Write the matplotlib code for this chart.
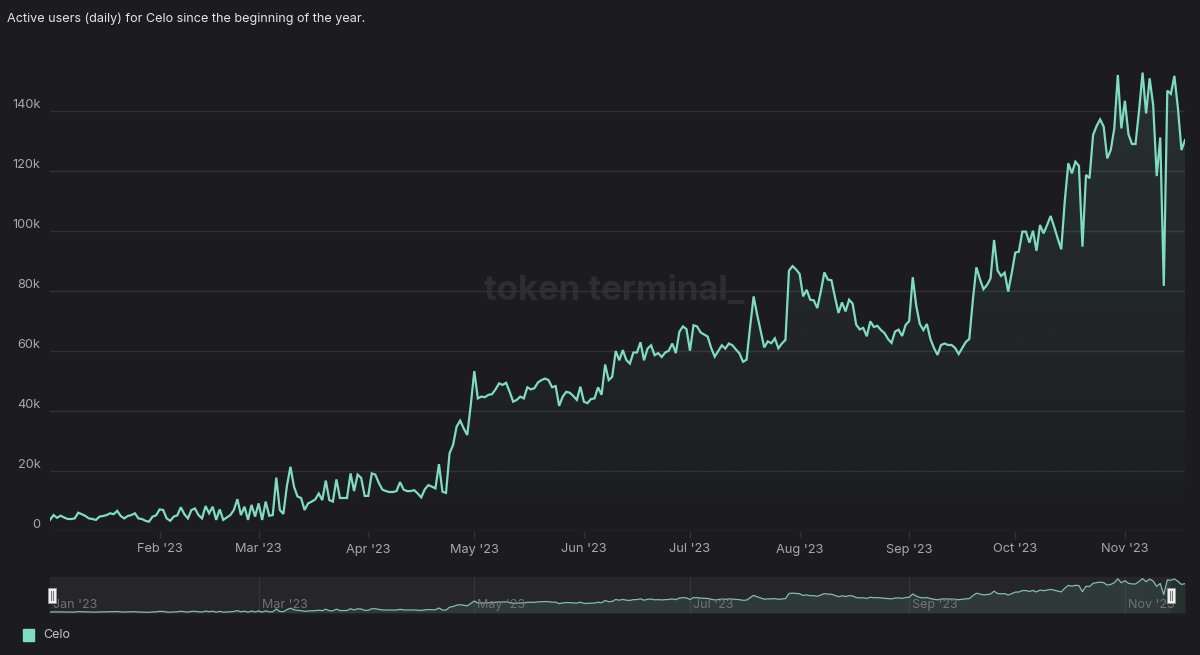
import numpy as np
import pandas as pd
import matplotlib
matplotlib.use("Agg")
import matplotlib.pyplot as plt
import matplotlib.dates as mdates
from matplotlib.patches import Rectangle, Polygon
from matplotlib.transforms import blended_transform_factory, offset_copy

# daily active users (thousands), one list per month
jan = [3.7, 5.3, 4.4, 5.1, 4.5, 4.0, 4.0, 4.2, 6.1, 5.6,
       5.0, 4.2, 4.0, 3.7, 4.8, 5.0, 5.3, 5.9, 5.6, 6.7,
       5.0, 4.2, 5.0, 5.3, 5.9, 4.2, 4.0, 3.4, 3.1, 4.8, 5.2]
feb = [7.2, 7.0, 4.2, 3.4, 4.8, 5.2, 7.9, 5.6, 4.2, 7.0,
       7.5, 5.3, 4.2, 8.3, 5.9, 8.1, 3.7, 7.2, 3.7, 4.5,
       5.3, 7.0, 10.6, 5.3, 8.1, 3.7, 8.7, 4.8]
mar = [9.2, 3.7, 9.8, 5.1, 5.3, 17.8, 7.0, 5.7, 15.0, 21.4,
       14.8, 11.5, 11.0, 7.0, 9.2, 9.8, 10.5, 12.5, 10.3, 16.8,
       10.3, 9.8, 17.2, 11.0, 11.0, 11.0, 19.2, 13.3, 18.8, 17.7, 11.7]
apr = [11.7, 19.2, 18.8, 16.0, 13.8, 13.3, 13.0, 13.0, 13.3, 16.3,
       13.8, 13.3, 13.3, 13.6, 12.5, 11.2, 13.9, 15.3, 14.8, 14.2,
       22.3, 13.1, 12.7, 25.9, 28.7, 34.8, 36.8, 34.2, 32.0, 42.0]
may = [53.3, 44.2, 44.8, 44.6, 45.4, 45.6, 47.2, 49.2, 48.7, 49.4,
       46.4, 43.1, 43.7, 44.8, 44.2, 47.9, 47.2, 47.6, 49.5, 50.3,
       50.8, 50.3, 47.9, 48.3, 41.7, 44.8, 46.4, 46.1, 45.0, 43.7, 48.1]
jun = [43.1, 42.6, 44.0, 44.2, 47.9, 45.4, 55.5, 50.3, 51.4, 60.0,
       56.9, 60.3, 57.0, 55.8, 59.5, 59.5, 62.9, 56.9, 60.8, 61.9,
       58.6, 59.3, 58.0, 59.5, 60.1, 62.5, 59.3, 66.4, 68.2, 67.3]
jul = [60.1, 68.6, 68.2, 66.2, 65.5, 64.8, 61.0, 58.1, 60.0, 61.9,
       60.8, 62.5, 61.9, 60.5, 59.2, 56.4, 57.1, 68.0, 78.2, 72.1,
       66.6, 61.2, 63.2, 62.6, 64.2, 60.9, 62.5, 63.7, 86.8, 88.3, 87.2]
aug = [85.7, 78.2, 80.4, 77.1, 76.9, 74.3, 79.8, 86.2, 83.8, 83.6,
       78.0, 72.7, 76.2, 73.2, 77.1, 75.8, 68.8, 67.2, 67.7, 64.9,
       69.9, 68.0, 68.4, 67.0, 66.0, 64.0, 62.7, 66.5, 67.1, 65.0, 68.7]
sep = [70.0, 84.6, 75.0, 69.0, 67.0, 69.0, 64.0, 61.0, 58.7, 62.0,
       62.5, 62.0, 62.0, 61.0, 59.0, 61.0, 63.0, 64.0, 77.0, 87.9,
       84.0, 80.6, 82.0, 84.2, 97.0, 86.8, 85.0, 86.1, 79.8, 86.0]
oct_ = [92.8, 93.1, 99.8, 99.8, 96.1, 100.1, 93.4, 102.0, 99.2, 102.0,
        105.0, 101.4, 97.5, 93.9, 110.0, 122.6, 119.2, 123.1, 121.7, 94.8,
        118.7, 117.6, 132.0, 135.0, 137.2, 134.8, 124.2, 127.0, 134.2, 152.0, 134.2]
nov = [143.4, 132.3, 129.0, 129.0, 140.0, 152.8, 139.2, 150.9, 142.0, 118.3,
       131.2, 81.7, 146.8, 145.7, 151.7, 140.9, 127.0, 130.3]

users = np.array(jan + feb + mar + apr + may + jun + jul + aug + sep + oct_ + nov) * 1000
dates = pd.date_range("2023-01-01", periods=len(users), freq="D")

y_ticks = [0, 20000, 40000, 60000, 80000, 100000, 120000, 140000]
y_labels = ["0", "20k", "40k", "60k", "80k", "100k", "120k", "140k"]
month_ticks = pd.date_range("2023-02-01", "2023-11-01", freq="MS")
month_labels = ["Feb '23", "Mar '23", "Apr '23", "May '23", "Jun '23",
                "Jul '23", "Aug '23", "Sep '23", "Oct '23", "Nov '23"]
nav_ticks = pd.date_range("2023-01-01", "2023-11-01", freq="2MS")
nav_labels = ["Jan '23", "Mar '23", "May '23", "Jul '23", "Sep '23", "Nov '23"]

BG = "#1c1c1e"
LINE = "#7fdcc0"
GRID = "#313133"
TXT = "#a8a8aa"

plt.rcParams['font.family'] = ['Inter', 'DejaVu Sans']

fig = plt.figure(figsize=(12, 6.55), dpi=100, facecolor=BG)
W, H = 1200, 655

# main chart
ax = fig.add_axes([50 / W, 1 - 531 / H, 1135 / W, 480 / H])
ax.set_facecolor(BG)
x = mdates.date2num(dates)
ax.plot(x, users, color=LINE, lw=1.6, zorder=3, solid_joinstyle='miter')
ax.set_xlim(x[0], x[-1])
ax.set_ylim(0, 160000)

# gradient area under the line
rgba = np.zeros((256, 1, 4))
rgba[:, 0, :3] = matplotlib.colors.to_rgb(LINE)
rgba[:, 0, 3] = np.linspace(0.0, 0.12, 256)
im = ax.imshow(rgba, extent=[x[0], x[-1], 0, 160000], origin='lower',
               aspect='auto', zorder=2, interpolation='bilinear')
verts = [(x[0], 0)] + list(zip(x, users)) + [(x[-1], 0)]
clip = Polygon(verts, closed=True, facecolor='none', edgecolor='none')
ax.add_patch(clip)
im.set_clip_path(clip)

ax.set_yticks(y_ticks)
ax.set_yticklabels(y_labels)
for t in ax.get_yticklabels():
    t.set_va('bottom')
ax.set_xticks(mdates.date2num(month_ticks))
ax.set_xticklabels(month_labels)
ax.tick_params(axis='y', length=0, pad=7, labelcolor=TXT, labelsize=9.2)
ax.tick_params(axis='x', length=5, width=1, color=GRID, pad=4,
               labelcolor=TXT, labelsize=9.2)
ax.grid(axis='y', color=GRID, lw=1)
ax.set_axisbelow(True)
for s in ax.spines.values():
    s.set_visible(False)

ax.text(0.497, 0.5, "token terminal_", transform=ax.transAxes, ha='center',
        va='center', fontsize=25, fontweight='bold', color='#2e2e30', zorder=0)

fig.text(7 / W, 1 - 19 / H, "Active users (daily) for Celo since the beginning of the year.",
         color='#e4e4e4', fontsize=9.1, va='center', ha='left')

# navigator
nav = fig.add_axes([50 / W, 1 - 613 / H, 1135 / W, 36 / H])
nav.set_facecolor(BG)
nav.set_xlim(x[0], x[-1])
nav.set_ylim(0, 160000)
sel_end = mdates.date2num(pd.Timestamp("2023-11-14"))
nav.axvspan(x[0], sel_end, color='#262628', zorder=0, lw=0)
for d in mdates.date2num(nav_ticks)[1:]:
    nav.axvline(d, color='#343436', lw=1, zorder=1)
nav.fill_between(x, users, 0, color=LINE, alpha=0.11, lw=0, zorder=2)
nav.plot(x, users, color='#8ccfbc', lw=0.9, alpha=0.9, zorder=3)
bt = blended_transform_factory(nav.transData, nav.transAxes)
lt = offset_copy(bt, fig=fig, x=3, y=0, units='dots')
for d, lab in zip(mdates.date2num(nav_ticks), nav_labels):
    nav.text(d, 0.06, lab, transform=lt, ha='left', va='bottom',
             color='#727274', fontsize=9, zorder=4)
for hx in [x[0] + 0.6, sel_end]:
    nav.add_patch(Rectangle((hx - 1.1, 0.28), 2.2, 0.41, transform=bt,
                            facecolor='#f2f2f2', edgecolor='#9a9a9a', lw=0.6,
                            zorder=5, clip_on=False))
    for off in (-0.35, 0.35):
        nav.plot([hx + off, hx + off], [0.37, 0.6], transform=bt,
                 color='#777777', lw=0.8, zorder=6, clip_on=False)
nav.set_xticks([])
nav.set_yticks([])
for s in nav.spines.values():
    s.set_visible(False)

# legend
fig.patches.append(Rectangle((23 / W, 1 - 641 / H), 11 / W, 12 / H,
                             transform=fig.transFigure, color=LINE))
fig.text(43 / W, 1 - 635 / H, "Celo", color='#c4c4c4', fontsize=9, va='center')

fig.savefig("out.png", dpi=100, facecolor=BG)
